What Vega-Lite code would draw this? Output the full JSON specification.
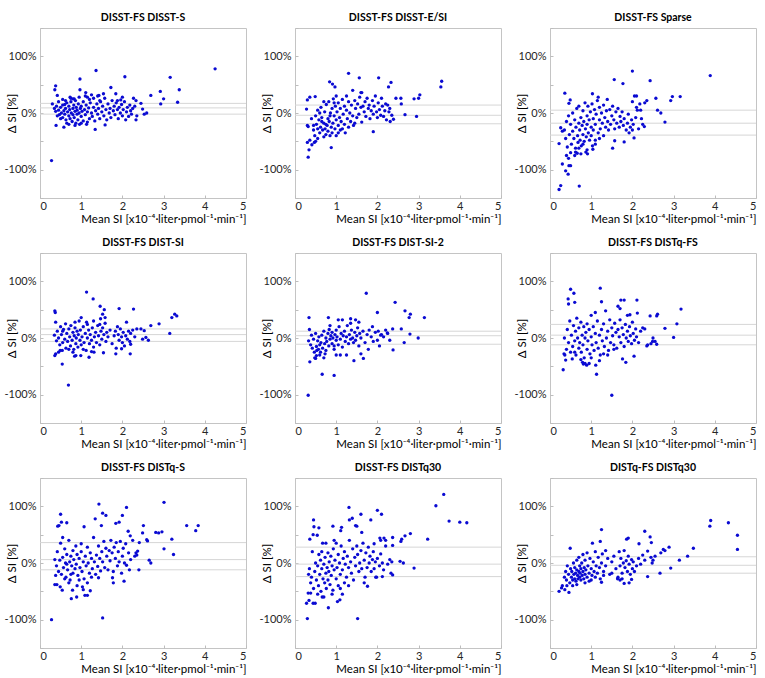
{
"$schema":"https://vega.github.io/schema/vega-lite/v6.json",
"padding":{"left":3,"top":12,"right":2,"bottom":2},
"background":"white",
"config":{"font":"Lato","view":{"stroke":"#c4c4c4","strokeWidth":1},
"axis":{"grid":false,"domain":false,"tickColor":"#bdbdbd","tickSize":-3,"labelFont":"Lato","labelFontSize":11,"labelColor":"#262626","titleFont":"Lato","titleFontSize":11.5,"titleColor":"#000","titleFontWeight":"normal"}},
"data":{"values":[
{"p":1,"h":17},{"p":1,"h":9},{"p":1,"h":-2},
{"p":2,"h":14},{"p":2,"h":-4},{"p":2,"h":-19},
{"p":3,"h":5},{"p":3,"h":-18},{"p":3,"h":-39},
{"p":4,"h":16},{"p":4,"h":6},{"p":4,"h":-6},
{"p":5,"h":12},{"p":5,"h":4},{"p":5,"h":-11},
{"p":6,"h":24},{"p":6,"h":5},{"p":6,"h":-12},
{"p":7,"h":36},{"p":7,"h":6},{"p":7,"h":-12},
{"p":8,"h":28},{"p":8,"h":-2},{"p":8,"h":-24},
{"p":9,"h":11},{"p":9,"h":-4},{"p":9,"h":-18},
{"p":1,"x":0.28,"y":-84},{"p":1,"x":4.25,"y":78},{"p":1,"x":1.36,"y":75},{"p":1,"x":0.97,"y":60},{"p":1,"x":2.06,"y":64},{"p":1,"x":3.16,"y":63},{"p":1,"x":3.38,"y":41},{"p":1,"x":3.34,"y":19},{"p":1,"x":2.92,"y":38},{"p":1,"x":3.0,"y":25},{"p":1,"x":2.93,"y":16},{"p":1,"x":2.69,"y":31},{"p":1,"x":1.72,"y":45},{"p":1,"x":0.38,"y":48},{"p":1,"x":0.36,"y":41},{"p":1,"x":0.30,"y":16},{"p":1,"x":0.42,"y":31},{"p":1,"x":0.39,"y":-22},{"p":1,"x":0.58,"y":-25},{"p":1,"x":1.11,"y":36},{"p":1,"x":1.34,"y":-29},{"p":1,"x":1.58,"y":-21},{"p":1,"x":2.33,"y":-12},{"p":1,"x":2.35,"y":-5},{"p":1,"x":2.53,"y":-2},{"p":1,"x":2.59,"y":0},{"p":1,"x":2.49,"y":7},{"p":1,"x":2.45,"y":17},{"p":1,"x":2.27,"y":26},{"p":1,"x":2.33,"y":22},{"p":1,"x":1.88,"y":22},{"p":1,"x":2.0,"y":28},{"p":1,"x":1.96,"y":23},{"p":1,"x":1.84,"y":34},{"p":1,"x":1.54,"y":34},{"p":1,"x":1.43,"y":31},{"p":1,"x":1.15,"y":28},{"p":1,"x":0.97,"y":41},{"p":1,"x":0.83,"y":25},{"p":1,"x":0.73,"y":28},{"p":1,"x":0.62,"y":22},
{"p":1,"x":0.35,"y":8},{"p":1,"x":0.38,"y":3},{"p":1,"x":0.4,"y":12},{"p":1,"x":0.42,"y":-5},{"p":1,"x":0.45,"y":5},{"p":1,"x":0.47,"y":-3},{"p":1,"x":0.5,"y":10},{"p":1,"x":0.52,"y":0},{"p":1,"x":0.55,"y":-8},{"p":1,"x":0.55,"y":14},{"p":1,"x":0.58,"y":4},{"p":1,"x":0.6,"y":-2},{"p":1,"x":0.62,"y":8},{"p":1,"x":0.63,"y":-12},{"p":1,"x":0.65,"y":18},{"p":1,"x":0.67,"y":2},{"p":1,"x":0.7,"y":-5},{"p":1,"x":0.7,"y":12},{"p":1,"x":0.72,"y":6},{"p":1,"x":0.73,"y":-10},{"p":1,"x":0.75,"y":20},{"p":1,"x":0.76,"y":0},{"p":1,"x":0.78,"y":-15},{"p":1,"x":0.8,"y":8},{"p":1,"x":0.8,"y":-3},{"p":1,"x":0.82,"y":14},{"p":1,"x":0.83,"y":-8},{"p":1,"x":0.85,"y":3},{"p":1,"x":0.86,"y":22},{"p":1,"x":0.87,"y":-18},{"p":1,"x":0.88,"y":10},{"p":1,"x":0.9,"y":-2},{"p":1,"x":0.9,"y":5},{"p":1,"x":0.92,"y":-12},{"p":1,"x":0.93,"y":16},{"p":1,"x":0.95,"y":0},{"p":1,"x":0.96,"y":-20},{"p":1,"x":0.98,"y":8},{"p":1,"x":1.0,"y":-6},{"p":1,"x":1.0,"y":12},{"p":1,"x":1.02,"y":3},{"p":1,"x":1.05,"y":-14},{"p":1,"x":1.05,"y":20},{"p":1,"x":1.08,"y":6},{"p":1,"x":1.1,"y":-3},{"p":1,"x":1.12,"y":14},{"p":1,"x":1.13,"y":-20},{"p":1,"x":1.15,"y":2},{"p":1,"x":1.18,"y":9},{"p":1,"x":1.2,"y":-10},{"p":1,"x":1.22,"y":18},{"p":1,"x":1.25,"y":0},{"p":1,"x":1.27,"y":-6},{"p":1,"x":1.3,"y":10},{"p":1,"x":1.3,"y":26},{"p":1,"x":1.33,"y":-14},{"p":1,"x":1.35,"y":4},{"p":1,"x":1.38,"y":16},{"p":1,"x":1.4,"y":-2},{"p":1,"x":1.42,"y":8},{"p":1,"x":1.45,"y":-10},{"p":1,"x":1.47,"y":20},{"p":1,"x":1.5,"y":2},{"p":1,"x":1.52,"y":12},{"p":1,"x":1.55,"y":-5},{"p":1,"x":1.57,"y":26},{"p":1,"x":1.6,"y":6},{"p":1,"x":1.62,"y":-12},{"p":1,"x":1.65,"y":16},{"p":1,"x":1.68,"y":0},{"p":1,"x":1.7,"y":8},{"p":1,"x":1.72,"y":-8},{"p":1,"x":1.75,"y":22},{"p":1,"x":1.78,"y":4},{"p":1,"x":1.8,"y":12},{"p":1,"x":1.82,"y":-3},{"p":1,"x":1.85,"y":18},{"p":1,"x":1.88,"y":6},{"p":1,"x":1.9,"y":-10},{"p":1,"x":1.92,"y":10},{"p":1,"x":1.95,"y":0},{"p":1,"x":1.98,"y":15},{"p":1,"x":2.0,"y":-5},{"p":1,"x":2.02,"y":6},{"p":1,"x":2.05,"y":20},{"p":1,"x":2.08,"y":-12},{"p":1,"x":2.1,"y":2},{"p":1,"x":2.12,"y":10},{"p":1,"x":2.15,"y":-6},{"p":1,"x":2.18,"y":14},{"p":1,"x":2.2,"y":4},{"p":1,"x":2.22,"y":-2},{"p":1,"x":2.25,"y":8},{"p":1,"x":2.3,"y":12},{"p":1,"x":0.95,"y":28},{"p":1,"x":0.75,"y":26},{"p":1,"x":0.55,"y":24},{"p":1,"x":0.45,"y":20},{"p":1,"x":1.1,"y":30},{"p":1,"x":1.25,"y":32},{"p":1,"x":1.45,"y":22},{"p":1,"x":0.65,"y":-18},{"p":1,"x":0.85,"y":-22},{"p":1,"x":1.15,"y":-16},{"p":1,"x":0.5,"y":-10},{"p":1,"x":0.6,"y":15},{"p":1,"x":0.7,"y":-20},{"p":1,"x":0.8,"y":25},{"p":1,"x":1.0,"y":-18},{"p":1,"x":1.2,"y":24},{"p":1,"x":1.4,"y":30},
{"p":2,"x":1.3,"y":70},{"p":2,"x":1.56,"y":62},{"p":2,"x":2.03,"y":62},{"p":2,"x":2.33,"y":54},{"p":2,"x":2.27,"y":46},{"p":2,"x":3.56,"y":56},{"p":2,"x":3.54,"y":46},{"p":2,"x":3.03,"y":32},{"p":2,"x":3.0,"y":26},{"p":2,"x":2.89,"y":25},{"p":2,"x":2.95,"y":-6},{"p":2,"x":2.67,"y":-3},{"p":2,"x":2.58,"y":16},{"p":2,"x":2.57,"y":26},{"p":2,"x":2.45,"y":26},{"p":2,"x":2.39,"y":-11},{"p":2,"x":2.31,"y":-15},{"p":2,"x":1.9,"y":-33},{"p":2,"x":1.62,"y":-16},{"p":2,"x":0.84,"y":55},{"p":2,"x":0.91,"y":51},{"p":2,"x":0.97,"y":46},{"p":2,"x":0.88,"y":-61},{"p":2,"x":0.3,"y":-52},{"p":2,"x":0.34,"y":-65},{"p":2,"x":0.32,"y":-78},{"p":2,"x":0.41,"y":-56},{"p":2,"x":0.47,"y":-52},{"p":2,"x":0.36,"y":-48},{"p":2,"x":0.28,"y":7},{"p":2,"x":0.3,"y":-22},{"p":2,"x":0.32,"y":-24},{"p":2,"x":0.36,"y":28},{"p":2,"x":0.3,"y":23},{"p":2,"x":0.49,"y":29},
{"p":2,"x":0.4,"y":-10},{"p":2,"x":0.45,"y":-30},{"p":2,"x":0.48,"y":-40},{"p":2,"x":0.5,"y":-5},{"p":2,"x":0.52,"y":-20},{"p":2,"x":0.55,"y":-45},{"p":2,"x":0.55,"y":5},{"p":2,"x":0.58,"y":-12},{"p":2,"x":0.6,"y":-35},{"p":2,"x":0.62,"y":-25},{"p":2,"x":0.63,"y":10},{"p":2,"x":0.65,"y":-8},{"p":2,"x":0.67,"y":-30},{"p":2,"x":0.7,"y":-42},{"p":2,"x":0.7,"y":-18},{"p":2,"x":0.72,"y":2},{"p":2,"x":0.73,"y":-28},{"p":2,"x":0.75,"y":-38},{"p":2,"x":0.76,"y":15},{"p":2,"x":0.78,"y":-22},{"p":2,"x":0.8,"y":-10},{"p":2,"x":0.8,"y":-32},{"p":2,"x":0.82,"y":20},{"p":2,"x":0.83,"y":-15},{"p":2,"x":0.85,"y":-40},{"p":2,"x":0.86,"y":0},{"p":2,"x":0.88,"y":-25},{"p":2,"x":0.9,"y":8},{"p":2,"x":0.9,"y":-35},{"p":2,"x":0.92,"y":-18},{"p":2,"x":0.93,"y":25},{"p":2,"x":0.95,"y":-5},{"p":2,"x":0.97,"y":-28},{"p":2,"x":0.98,"y":12},{"p":2,"x":1.0,"y":-12},{"p":2,"x":1.0,"y":-40},{"p":2,"x":1.02,"y":2},{"p":2,"x":1.05,"y":-22},{"p":2,"x":1.05,"y":18},{"p":2,"x":1.08,"y":-8},{"p":2,"x":1.1,"y":-30},{"p":2,"x":1.1,"y":8},{"p":2,"x":1.12,"y":-15},{"p":2,"x":1.15,"y":24},{"p":2,"x":1.17,"y":-2},{"p":2,"x":1.2,"y":-20},{"p":2,"x":1.2,"y":12},{"p":2,"x":1.22,"y":-35},{"p":2,"x":1.25,"y":5},{"p":2,"x":1.27,"y":-10},{"p":2,"x":1.3,"y":20},{"p":2,"x":1.3,"y":-25},{"p":2,"x":1.33,"y":0},{"p":2,"x":1.35,"y":-15},{"p":2,"x":1.37,"y":14},{"p":2,"x":1.4,"y":-5},{"p":2,"x":1.42,"y":-22},{"p":2,"x":1.45,"y":22},{"p":2,"x":1.47,"y":8},{"p":2,"x":1.5,"y":-8},{"p":2,"x":1.52,"y":16},{"p":2,"x":1.55,"y":-2},{"p":2,"x":1.57,"y":28},{"p":2,"x":1.6,"y":10},{"p":2,"x":1.62,"y":36},{"p":2,"x":1.65,"y":12},{"p":2,"x":1.68,"y":2},{"p":2,"x":1.7,"y":20},{"p":2,"x":1.72,"y":-6},{"p":2,"x":1.75,"y":26},{"p":2,"x":1.78,"y":8},{"p":2,"x":1.8,"y":14},{"p":2,"x":1.82,"y":-10},{"p":2,"x":1.85,"y":4},{"p":2,"x":1.88,"y":22},{"p":2,"x":1.9,"y":-2},{"p":2,"x":1.92,"y":12},{"p":2,"x":1.95,"y":30},{"p":2,"x":1.98,"y":2},{"p":2,"x":2.0,"y":-8},{"p":2,"x":2.02,"y":18},{"p":2,"x":2.05,"y":6},{"p":2,"x":2.08,"y":-4},{"p":2,"x":2.1,"y":26},{"p":2,"x":2.12,"y":12},{"p":2,"x":2.15,"y":-6},{"p":2,"x":2.18,"y":4},{"p":2,"x":2.2,"y":16},{"p":2,"x":2.22,"y":-12},{"p":2,"x":2.25,"y":14},{"p":2,"x":2.28,"y":2},{"p":2,"x":2.3,"y":8},{"p":2,"x":2.35,"y":-4},{"p":2,"x":1.4,"y":40},{"p":2,"x":1.6,"y":36},{"p":2,"x":1.0,"y":30},{"p":2,"x":0.75,"y":-20},{"p":2,"x":0.65,"y":-15},{"p":2,"x":0.55,"y":-28},{"p":2,"x":0.85,"y":-5},{"p":2,"x":0.95,"y":18},{"p":2,"x":1.15,"y":-28},{"p":2,"x":1.25,"y":30},{"p":2,"x":1.05,"y":-35},{"p":2,"x":1.45,"y":-18},{"p":2,"x":0.7,"y":20},{"p":2,"x":0.6,"y":0},{"p":2,"x":0.5,"y":-50},{"p":2,"x":0.45,"y":-22},
{"p":3,"x":0.22,"y":-135},{"p":3,"x":0.26,"y":-128},{"p":3,"x":0.71,"y":-129},{"p":3,"x":0.3,"y":-90},{"p":3,"x":0.38,"y":-102},{"p":3,"x":0.44,"y":-108},{"p":3,"x":0.46,"y":-93},{"p":3,"x":0.5,"y":-93},{"p":3,"x":0.36,"y":35},{"p":3,"x":2.0,"y":74},{"p":3,"x":3.89,"y":66},{"p":3,"x":2.43,"y":57},{"p":3,"x":1.56,"y":59},{"p":3,"x":1.77,"y":52},{"p":3,"x":3.16,"y":29},{"p":3,"x":2.97,"y":29},{"p":3,"x":2.93,"y":22},{"p":3,"x":2.57,"y":26},{"p":3,"x":2.61,"y":5},{"p":3,"x":2.69,"y":0},{"p":3,"x":2.79,"y":-16},{"p":3,"x":2.29,"y":-24},{"p":3,"x":2.04,"y":-44},{"p":3,"x":1.8,"y":-51},{"p":3,"x":1.52,"y":-62},{"p":3,"x":1.57,"y":-49},{"p":3,"x":0.22,"y":-54},{"p":3,"x":0.26,"y":-26},{"p":3,"x":0.3,"y":-32},{"p":3,"x":1.03,"y":-58},{"p":3,"x":1.04,"y":-64},{"p":3,"x":0.66,"y":-71},{"p":3,"x":0.75,"y":-72},{"p":3,"x":0.62,"y":-69},{"p":3,"x":0.87,"y":-69},{"p":3,"x":0.91,"y":-72},{"p":3,"x":0.49,"y":23},{"p":3,"x":0.46,"y":17},{"p":3,"x":1.03,"y":34},{"p":3,"x":1.17,"y":28},{"p":3,"x":1.39,"y":24},
{"p":3,"x":0.35,"y":-30},{"p":3,"x":0.38,"y":-45},{"p":3,"x":0.4,"y":-15},{"p":3,"x":0.42,"y":-60},{"p":3,"x":0.45,"y":-5},{"p":3,"x":0.47,"y":-38},{"p":3,"x":0.5,"y":-20},{"p":3,"x":0.52,"y":-55},{"p":3,"x":0.55,"y":0},{"p":3,"x":0.55,"y":-32},{"p":3,"x":0.58,"y":-45},{"p":3,"x":0.6,"y":-12},{"p":3,"x":0.62,"y":-62},{"p":3,"x":0.63,"y":-25},{"p":3,"x":0.65,"y":8},{"p":3,"x":0.67,"y":-40},{"p":3,"x":0.68,"y":-52},{"p":3,"x":0.7,"y":-18},{"p":3,"x":0.7,"y":12},{"p":3,"x":0.72,"y":-30},{"p":3,"x":0.73,"y":-48},{"p":3,"x":0.75,"y":-8},{"p":3,"x":0.76,"y":-58},{"p":3,"x":0.78,"y":-22},{"p":3,"x":0.8,"y":-38},{"p":3,"x":0.8,"y":4},{"p":3,"x":0.82,"y":-15},{"p":3,"x":0.83,"y":-50},{"p":3,"x":0.85,"y":18},{"p":3,"x":0.86,"y":-28},{"p":3,"x":0.88,"y":-42},{"p":3,"x":0.9,"y":-5},{"p":3,"x":0.9,"y":-20},{"p":3,"x":0.92,"y":12},{"p":3,"x":0.93,"y":-35},{"p":3,"x":0.95,"y":-12},{"p":3,"x":0.96,"y":-48},{"p":3,"x":0.98,"y":2},{"p":3,"x":1.0,"y":-25},{"p":3,"x":1.0,"y":-40},{"p":3,"x":1.02,"y":16},{"p":3,"x":1.05,"y":-10},{"p":3,"x":1.05,"y":-30},{"p":3,"x":1.08,"y":6},{"p":3,"x":1.1,"y":-20},{"p":3,"x":1.1,"y":-55},{"p":3,"x":1.12,"y":-2},{"p":3,"x":1.15,"y":22},{"p":3,"x":1.17,"y":-35},{"p":3,"x":1.2,"y":-12},{"p":3,"x":1.2,"y":10},{"p":3,"x":1.22,"y":-28},{"p":3,"x":1.25,"y":0},{"p":3,"x":1.27,"y":-18},{"p":3,"x":1.3,"y":-40},{"p":3,"x":1.3,"y":14},{"p":3,"x":1.33,"y":-8},{"p":3,"x":1.35,"y":-25},{"p":3,"x":1.37,"y":4},{"p":3,"x":1.4,"y":-15},{"p":3,"x":1.42,"y":-30},{"p":3,"x":1.45,"y":6},{"p":3,"x":1.47,"y":-20},{"p":3,"x":1.5,"y":-5},{"p":3,"x":1.52,"y":12},{"p":3,"x":1.55,"y":-12},{"p":3,"x":1.57,"y":-28},{"p":3,"x":1.6,"y":2},{"p":3,"x":1.62,"y":-18},{"p":3,"x":1.65,"y":8},{"p":3,"x":1.68,"y":-25},{"p":3,"x":1.7,"y":-6},{"p":3,"x":1.72,"y":-15},{"p":3,"x":1.75,"y":2},{"p":3,"x":1.78,"y":-22},{"p":3,"x":1.8,"y":-10},{"p":3,"x":1.85,"y":-30},{"p":3,"x":1.88,"y":-18},{"p":3,"x":1.9,"y":-2},{"p":3,"x":1.92,"y":-35},{"p":3,"x":1.95,"y":-25},{"p":3,"x":1.98,"y":-12},{"p":3,"x":2.0,"y":20},{"p":3,"x":2.02,"y":-20},{"p":3,"x":2.05,"y":30},{"p":3,"x":2.08,"y":-8},{"p":3,"x":2.1,"y":10},{"p":3,"x":2.12,"y":5},{"p":3,"x":2.15,"y":-28},{"p":3,"x":2.18,"y":16},{"p":3,"x":2.2,"y":5},{"p":3,"x":2.22,"y":-10},{"p":3,"x":2.25,"y":-20},{"p":3,"x":2.3,"y":18},{"p":3,"x":2.35,"y":22},{"p":3,"x":2.1,"y":30},{"p":3,"x":2.0,"y":-30},{"p":3,"x":1.2,"y":-45},{"p":3,"x":0.9,"y":-65},{"p":3,"x":0.6,"y":-75},{"p":3,"x":0.7,"y":-62},{"p":3,"x":1.1,"y":-48},{"p":3,"x":0.8,"y":-55},{"p":3,"x":0.5,"y":-70},{"p":3,"x":0.45,"y":-80},{"p":3,"x":0.4,"y":-75},
{"p":4,"x":0.69,"y":-83},{"p":4,"x":1.13,"y":81},{"p":4,"x":1.29,"y":69},{"p":4,"x":0.36,"y":48},{"p":4,"x":0.37,"y":45},{"p":4,"x":0.54,"y":-46},{"p":4,"x":3.15,"y":8},{"p":4,"x":3.2,"y":36},{"p":4,"x":3.27,"y":42},{"p":4,"x":3.32,"y":39},{"p":4,"x":2.89,"y":25},{"p":4,"x":2.69,"y":22},{"p":4,"x":2.45,"y":16},{"p":4,"x":2.53,"y":13},{"p":4,"x":2.49,"y":-2},{"p":4,"x":2.57,"y":1},{"p":4,"x":2.63,"y":-4},{"p":4,"x":2.27,"y":51},{"p":4,"x":1.92,"y":52},{"p":4,"x":1.46,"y":56},{"p":4,"x":1.56,"y":50},{"p":4,"x":1.52,"y":42},{"p":4,"x":1.47,"y":34},{"p":4,"x":1.58,"y":36},{"p":4,"x":2.2,"y":-11},{"p":4,"x":2.19,"y":-28},{"p":4,"x":1.84,"y":-28},{"p":4,"x":1.98,"y":-19},{"p":4,"x":0.38,"y":-28},{"p":4,"x":0.36,"y":-31},{"p":4,"x":0.49,"y":-22},{"p":4,"x":0.54,"y":-22},{"p":4,"x":1.19,"y":-34},{"p":4,"x":0.87,"y":-31},{"p":4,"x":0.84,"y":-32},{"p":4,"x":0.99,"y":-31},{"p":4,"x":1.31,"y":-25},{"p":4,"x":1.54,"y":-26},
{"p":4,"x":0.35,"y":5},{"p":4,"x":0.38,"y":28},{"p":4,"x":0.4,"y":-5},{"p":4,"x":0.42,"y":12},{"p":4,"x":0.45,"y":0},{"p":4,"x":0.48,"y":-12},{"p":4,"x":0.5,"y":20},{"p":4,"x":0.52,"y":6},{"p":4,"x":0.55,"y":-8},{"p":4,"x":0.57,"y":15},{"p":4,"x":0.6,"y":-2},{"p":4,"x":0.62,"y":25},{"p":4,"x":0.63,"y":-18},{"p":4,"x":0.65,"y":8},{"p":4,"x":0.67,"y":-6},{"p":4,"x":0.7,"y":16},{"p":4,"x":0.72,"y":2},{"p":4,"x":0.74,"y":-14},{"p":4,"x":0.75,"y":22},{"p":4,"x":0.78,"y":-4},{"p":4,"x":0.8,"y":10},{"p":4,"x":0.82,"y":-20},{"p":4,"x":0.83,"y":4},{"p":4,"x":0.85,"y":18},{"p":4,"x":0.87,"y":-10},{"p":4,"x":0.88,"y":0},{"p":4,"x":0.9,"y":12},{"p":4,"x":0.92,"y":-16},{"p":4,"x":0.93,"y":6},{"p":4,"x":0.95,"y":30},{"p":4,"x":0.97,"y":-4},{"p":4,"x":0.98,"y":14},{"p":4,"x":1.0,"y":-12},{"p":4,"x":1.02,"y":2},{"p":4,"x":1.05,"y":20},{"p":4,"x":1.07,"y":-8},{"p":4,"x":1.1,"y":8},{"p":4,"x":1.12,"y":-22},{"p":4,"x":1.13,"y":28},{"p":4,"x":1.15,"y":0},{"p":4,"x":1.18,"y":14},{"p":4,"x":1.2,"y":-10},{"p":4,"x":1.22,"y":6},{"p":4,"x":1.25,"y":-4},{"p":4,"x":1.27,"y":18},{"p":4,"x":1.3,"y":-16},{"p":4,"x":1.32,"y":2},{"p":4,"x":1.35,"y":10},{"p":4,"x":1.37,"y":-8},{"p":4,"x":1.4,"y":22},{"p":4,"x":1.42,"y":4},{"p":4,"x":1.45,"y":-12},{"p":4,"x":1.48,"y":12},{"p":4,"x":1.5,"y":-2},{"p":4,"x":1.52,"y":18},{"p":4,"x":1.55,"y":6},{"p":4,"x":1.58,"y":26},{"p":4,"x":1.6,"y":-6},{"p":4,"x":1.62,"y":10},{"p":4,"x":1.65,"y":2},{"p":4,"x":1.7,"y":14},{"p":4,"x":1.75,"y":-10},{"p":4,"x":1.8,"y":4},{"p":4,"x":1.83,"y":12},{"p":4,"x":1.85,"y":-18},{"p":4,"x":1.88,"y":20},{"p":4,"x":1.9,"y":6},{"p":4,"x":1.92,"y":-4},{"p":4,"x":1.95,"y":16},{"p":4,"x":1.98,"y":2},{"p":4,"x":2.0,"y":-8},{"p":4,"x":2.02,"y":10},{"p":4,"x":2.05,"y":-14},{"p":4,"x":2.08,"y":4},{"p":4,"x":2.1,"y":28},{"p":4,"x":2.12,"y":-2},{"p":4,"x":2.15,"y":12},{"p":4,"x":2.18,"y":-6},{"p":4,"x":2.2,"y":8},{"p":4,"x":2.25,"y":14},{"p":4,"x":2.3,"y":2},{"p":4,"x":2.35,"y":16},{"p":4,"x":0.55,"y":12},{"p":4,"x":0.7,"y":-20},{"p":4,"x":0.85,"y":28},{"p":4,"x":1.0,"y":36},{"p":4,"x":1.15,"y":24},{"p":4,"x":1.3,"y":30},{"p":4,"x":0.45,"y":-25},{"p":4,"x":0.8,"y":-25},{"p":4,"x":1.05,"y":-20},{"p":4,"x":1.25,"y":-24},{"p":4,"x":1.45,"y":24},
{"p":5,"x":0.32,"y":-101},{"p":5,"x":0.66,"y":-64},{"p":5,"x":0.95,"y":-66},{"p":5,"x":1.73,"y":79},{"p":5,"x":2.43,"y":63},{"p":5,"x":2.0,"y":45},{"p":5,"x":2.67,"y":48},{"p":5,"x":2.8,"y":42},{"p":5,"x":2.77,"y":36},{"p":5,"x":3.14,"y":36},{"p":5,"x":2.99,"y":0},{"p":5,"x":2.79,"y":7},{"p":5,"x":2.58,"y":16},{"p":5,"x":2.65,"y":-8},{"p":5,"x":2.38,"y":-21},{"p":5,"x":1.43,"y":-40},{"p":5,"x":1.66,"y":-36},{"p":5,"x":0.34,"y":36},{"p":5,"x":0.81,"y":36},{"p":5,"x":0.36,"y":-42},{"p":5,"x":0.5,"y":-36},{"p":5,"x":0.52,"y":-31},{"p":5,"x":0.48,"y":-35},{"p":5,"x":1.05,"y":32},{"p":5,"x":1.35,"y":34},{"p":5,"x":1.47,"y":32},{"p":5,"x":1.15,"y":32},{"p":5,"x":2.37,"y":16},{"p":5,"x":2.24,"y":9},{"p":5,"x":2.08,"y":5},
{"p":5,"x":0.33,"y":-5},{"p":5,"x":0.35,"y":15},{"p":5,"x":0.38,"y":-12},{"p":5,"x":0.4,"y":5},{"p":5,"x":0.42,"y":-18},{"p":5,"x":0.45,"y":-2},{"p":5,"x":0.47,"y":-25},{"p":5,"x":0.5,"y":8},{"p":5,"x":0.52,"y":-15},{"p":5,"x":0.53,"y":-22},{"p":5,"x":0.55,"y":-5},{"p":5,"x":0.57,"y":-20},{"p":5,"x":0.58,"y":2},{"p":5,"x":0.6,"y":-12},{"p":5,"x":0.62,"y":-25},{"p":5,"x":0.63,"y":-8},{"p":5,"x":0.65,"y":5},{"p":5,"x":0.67,"y":-18},{"p":5,"x":0.7,"y":12},{"p":5,"x":0.72,"y":-10},{"p":5,"x":0.73,"y":-28},{"p":5,"x":0.75,"y":0},{"p":5,"x":0.77,"y":-6},{"p":5,"x":0.8,"y":8},{"p":5,"x":0.82,"y":-14},{"p":5,"x":0.83,"y":15},{"p":5,"x":0.85,"y":-2},{"p":5,"x":0.87,"y":4},{"p":5,"x":0.9,"y":-10},{"p":5,"x":0.9,"y":10},{"p":5,"x":0.92,"y":0},{"p":5,"x":0.95,"y":-20},{"p":5,"x":0.97,"y":6},{"p":5,"x":1.0,"y":-4},{"p":5,"x":1.0,"y":14},{"p":5,"x":1.02,"y":2},{"p":5,"x":1.05,"y":-12},{"p":5,"x":1.07,"y":20},{"p":5,"x":1.1,"y":-2},{"p":5,"x":1.12,"y":8},{"p":5,"x":1.15,"y":-16},{"p":5,"x":1.17,"y":4},{"p":5,"x":1.2,"y":12},{"p":5,"x":1.22,"y":-6},{"p":5,"x":1.25,"y":2},{"p":5,"x":1.27,"y":22},{"p":5,"x":1.3,"y":-10},{"p":5,"x":1.32,"y":6},{"p":5,"x":1.35,"y":-2},{"p":5,"x":1.37,"y":14},{"p":5,"x":1.4,"y":0},{"p":5,"x":1.42,"y":-8},{"p":5,"x":1.45,"y":10},{"p":5,"x":1.47,"y":-4},{"p":5,"x":1.5,"y":4},{"p":5,"x":1.52,"y":18},{"p":5,"x":1.55,"y":-14},{"p":5,"x":1.57,"y":8},{"p":5,"x":1.6,"y":0},{"p":5,"x":1.65,"y":12},{"p":5,"x":1.7,"y":-8},{"p":5,"x":1.75,"y":6},{"p":5,"x":1.78,"y":-20},{"p":5,"x":1.8,"y":14},{"p":5,"x":1.85,"y":2},{"p":5,"x":1.88,"y":20},{"p":5,"x":1.9,"y":-6},{"p":5,"x":1.95,"y":10},{"p":5,"x":2.0,"y":-4},{"p":5,"x":2.02,"y":12},{"p":5,"x":2.05,"y":-14},{"p":5,"x":2.1,"y":6},{"p":5,"x":2.15,"y":2},{"p":5,"x":2.2,"y":14},{"p":5,"x":2.25,"y":8},{"p":5,"x":2.3,"y":-4},{"p":5,"x":1.25,"y":-30},{"p":5,"x":1.1,"y":-30},{"p":5,"x":1.6,"y":-28},{"p":5,"x":0.95,"y":-14},{"p":5,"x":0.6,"y":-30},{"p":5,"x":0.75,"y":-22},{"p":5,"x":1.35,"y":26},{"p":5,"x":1.55,"y":28},{"p":5,"x":0.85,"y":22},{"p":5,"x":0.7,"y":-35},{"p":5,"x":1.0,"y":-30},
{"p":6,"x":1.5,"y":-101},{"p":6,"x":0.32,"y":-56},{"p":6,"x":1.13,"y":-64},{"p":6,"x":0.5,"y":86},{"p":6,"x":1.22,"y":88},{"p":6,"x":0.58,"y":79},{"p":6,"x":0.44,"y":69},{"p":6,"x":0.45,"y":60},{"p":6,"x":0.6,"y":63},{"p":6,"x":1.25,"y":64},{"p":6,"x":1.72,"y":67},{"p":6,"x":1.8,"y":67},{"p":6,"x":2.11,"y":67},{"p":6,"x":1.65,"y":56},{"p":6,"x":1.7,"y":52},{"p":6,"x":3.18,"y":51},{"p":6,"x":3.08,"y":25},{"p":6,"x":3.0,"y":1},{"p":6,"x":2.79,"y":17},{"p":6,"x":2.61,"y":42},{"p":6,"x":2.59,"y":39},{"p":6,"x":2.43,"y":39},{"p":6,"x":2.12,"y":44},{"p":6,"x":1.94,"y":41},{"p":6,"x":1.88,"y":40},{"p":6,"x":1.76,"y":-37},{"p":6,"x":1.84,"y":-43},{"p":6,"x":2.04,"y":-32},{"p":6,"x":0.89,"y":-48},{"p":6,"x":0.95,"y":-45},{"p":6,"x":1.11,"y":-48},{"p":6,"x":0.79,"y":-43},{"p":6,"x":0.81,"y":-46},{"p":6,"x":0.38,"y":-39},{"p":6,"x":0.54,"y":-37},{"p":6,"x":0.34,"y":-28},{"p":6,"x":0.36,"y":-30},{"p":6,"x":2.59,"y":-11},{"p":6,"x":2.49,"y":-6},{"p":6,"x":2.37,"y":-12},
{"p":6,"x":0.35,"y":0},{"p":6,"x":0.4,"y":-20},{"p":6,"x":0.42,"y":15},{"p":6,"x":0.45,"y":-8},{"p":6,"x":0.48,"y":30},{"p":6,"x":0.5,"y":-25},{"p":6,"x":0.52,"y":5},{"p":6,"x":0.55,"y":-15},{"p":6,"x":0.57,"y":22},{"p":6,"x":0.6,"y":-5},{"p":6,"x":0.62,"y":12},{"p":6,"x":0.63,"y":-30},{"p":6,"x":0.65,"y":35},{"p":6,"x":0.67,"y":0},{"p":6,"x":0.7,"y":-18},{"p":6,"x":0.7,"y":18},{"p":6,"x":0.72,"y":-8},{"p":6,"x":0.75,"y":28},{"p":6,"x":0.76,"y":-25},{"p":6,"x":0.78,"y":5},{"p":6,"x":0.8,"y":-12},{"p":6,"x":0.82,"y":20},{"p":6,"x":0.83,"y":-35},{"p":6,"x":0.85,"y":0},{"p":6,"x":0.87,"y":10},{"p":6,"x":0.9,"y":-20},{"p":6,"x":0.9,"y":25},{"p":6,"x":0.92,"y":-5},{"p":6,"x":0.95,"y":15},{"p":6,"x":0.97,"y":-28},{"p":6,"x":1.0,"y":2},{"p":6,"x":1.0,"y":40},{"p":6,"x":1.02,"y":-12},{"p":6,"x":1.05,"y":20},{"p":6,"x":1.07,"y":-22},{"p":6,"x":1.1,"y":8},{"p":6,"x":1.12,"y":-8},{"p":6,"x":1.15,"y":30},{"p":6,"x":1.17,"y":-18},{"p":6,"x":1.2,"y":5},{"p":6,"x":1.22,"y":-30},{"p":6,"x":1.25,"y":15},{"p":6,"x":1.27,"y":-5},{"p":6,"x":1.3,"y":25},{"p":6,"x":1.32,"y":-15},{"p":6,"x":1.35,"y":48},{"p":6,"x":1.37,"y":0},{"p":6,"x":1.4,"y":12},{"p":6,"x":1.42,"y":-22},{"p":6,"x":1.45,"y":32},{"p":6,"x":1.47,"y":-8},{"p":6,"x":1.5,"y":18},{"p":6,"x":1.52,"y":4},{"p":6,"x":1.55,"y":-12},{"p":6,"x":1.57,"y":26},{"p":6,"x":1.6,"y":10},{"p":6,"x":1.62,"y":-18},{"p":6,"x":1.65,"y":15},{"p":6,"x":1.68,"y":2},{"p":6,"x":1.7,"y":32},{"p":6,"x":1.72,"y":-8},{"p":6,"x":1.75,"y":18},{"p":6,"x":1.78,"y":6},{"p":6,"x":1.8,"y":-15},{"p":6,"x":1.83,"y":24},{"p":6,"x":1.85,"y":0},{"p":6,"x":1.88,"y":12},{"p":6,"x":1.9,"y":-6},{"p":6,"x":1.93,"y":20},{"p":6,"x":1.95,"y":4},{"p":6,"x":1.98,"y":-10},{"p":6,"x":2.0,"y":28},{"p":6,"x":2.02,"y":8},{"p":6,"x":2.05,"y":-4},{"p":6,"x":2.08,"y":16},{"p":6,"x":2.1,"y":2},{"p":6,"x":2.15,"y":-8},{"p":6,"x":2.2,"y":12},{"p":6,"x":2.25,"y":18},{"p":6,"x":2.3,"y":16},{"p":6,"x":2.35,"y":-14},{"p":6,"x":2.45,"y":-10},{"p":6,"x":2.5,"y":0},{"p":6,"x":2.55,"y":-6},{"p":6,"x":1.0,"y":-35},{"p":6,"x":1.2,"y":-40},{"p":6,"x":1.4,"y":-30},{"p":6,"x":0.75,"y":-38},{"p":6,"x":0.6,"y":-25},{"p":6,"x":1.1,"y":45},{"p":6,"x":0.85,"y":-45},{"p":6,"x":1.3,"y":-28},{"p":6,"x":1.55,"y":-20},
{"p":7,"x":0.28,"y":-100},{"p":7,"x":1.52,"y":-97},{"p":7,"x":3.01,"y":107},{"p":7,"x":1.43,"y":104},{"p":7,"x":2.1,"y":98},{"p":7,"x":1.52,"y":88},{"p":7,"x":0.5,"y":86},{"p":7,"x":1.6,"y":84},{"p":7,"x":2.0,"y":84},{"p":7,"x":1.92,"y":72},{"p":7,"x":1.84,"y":70},{"p":7,"x":1.34,"y":78},{"p":7,"x":0.65,"y":71},{"p":7,"x":0.52,"y":72},{"p":7,"x":0.46,"y":66},{"p":7,"x":0.43,"y":65},{"p":7,"x":1.07,"y":64},{"p":7,"x":1.49,"y":66},{"p":7,"x":2.51,"y":66},{"p":7,"x":3.56,"y":66},{"p":7,"x":3.84,"y":66},{"p":7,"x":3.78,"y":57},{"p":7,"x":2.96,"y":55},{"p":7,"x":2.88,"y":53},{"p":7,"x":2.81,"y":54},{"p":7,"x":2.14,"y":56},{"p":7,"x":2.19,"y":48},{"p":7,"x":2.49,"y":53},{"p":7,"x":3.2,"y":42},{"p":7,"x":3.24,"y":15},{"p":7,"x":3.01,"y":25},{"p":7,"x":2.59,"y":41},{"p":7,"x":2.61,"y":39},{"p":7,"x":2.41,"y":36},{"p":7,"x":2.65,"y":5},{"p":7,"x":2.69,"y":0},{"p":7,"x":2.37,"y":21},{"p":7,"x":2.33,"y":18},{"p":7,"x":2.17,"y":-12},{"p":7,"x":2.04,"y":-32},{"p":7,"x":1.78,"y":-35},{"p":7,"x":1.76,"y":-26},{"p":7,"x":1.42,"y":-26},{"p":7,"x":0.76,"y":-63},{"p":7,"x":0.89,"y":-60},{"p":7,"x":1.09,"y":-57},{"p":7,"x":1.15,"y":-57},{"p":7,"x":1.22,"y":-49},{"p":7,"x":1.03,"y":-42},{"p":7,"x":1.05,"y":-47},{"p":7,"x":0.79,"y":-48},{"p":7,"x":0.54,"y":-48},{"p":7,"x":0.49,"y":-42},{"p":7,"x":0.36,"y":-38},{"p":7,"x":0.41,"y":-38},{"p":7,"x":0.38,"y":-22},{"p":7,"x":0.36,"y":6},
{"p":7,"x":0.4,"y":-5},{"p":7,"x":0.42,"y":20},{"p":7,"x":0.45,"y":-15},{"p":7,"x":0.48,"y":5},{"p":7,"x":0.5,"y":35},{"p":7,"x":0.52,"y":-20},{"p":7,"x":0.55,"y":10},{"p":7,"x":0.57,"y":-8},{"p":7,"x":0.6,"y":25},{"p":7,"x":0.62,"y":0},{"p":7,"x":0.63,"y":-25},{"p":7,"x":0.65,"y":15},{"p":7,"x":0.67,"y":-12},{"p":7,"x":0.7,"y":40},{"p":7,"x":0.72,"y":2},{"p":7,"x":0.73,"y":-30},{"p":7,"x":0.75,"y":12},{"p":7,"x":0.77,"y":-5},{"p":7,"x":0.8,"y":22},{"p":7,"x":0.8,"y":-18},{"p":7,"x":0.82,"y":6},{"p":7,"x":0.85,"y":-10},{"p":7,"x":0.87,"y":30},{"p":7,"x":0.88,"y":-2},{"p":7,"x":0.9,"y":15},{"p":7,"x":0.92,"y":-22},{"p":7,"x":0.95,"y":8},{"p":7,"x":0.97,"y":-8},{"p":7,"x":1.0,"y":20},{"p":7,"x":1.0,"y":34},{"p":7,"x":1.02,"y":-15},{"p":7,"x":1.05,"y":2},{"p":7,"x":1.07,"y":-28},{"p":7,"x":1.1,"y":12},{"p":7,"x":1.12,"y":-5},{"p":7,"x":1.15,"y":28},{"p":7,"x":1.17,"y":0},{"p":7,"x":1.2,"y":-18},{"p":7,"x":1.22,"y":18},{"p":7,"x":1.25,"y":8},{"p":7,"x":1.27,"y":-10},{"p":7,"x":1.3,"y":45},{"p":7,"x":1.32,"y":2},{"p":7,"x":1.35,"y":-20},{"p":7,"x":1.37,"y":14},{"p":7,"x":1.4,"y":-6},{"p":7,"x":1.42,"y":30},{"p":7,"x":1.45,"y":8},{"p":7,"x":1.47,"y":-14},{"p":7,"x":1.5,"y":20},{"p":7,"x":1.52,"y":2},{"p":7,"x":1.55,"y":38},{"p":7,"x":1.57,"y":-8},{"p":7,"x":1.6,"y":26},{"p":7,"x":1.62,"y":12},{"p":7,"x":1.65,"y":-12},{"p":7,"x":1.68,"y":22},{"p":7,"x":1.7,"y":4},{"p":7,"x":1.72,"y":40},{"p":7,"x":1.75,"y":18},{"p":7,"x":1.78,"y":-15},{"p":7,"x":1.8,"y":28},{"p":7,"x":1.83,"y":8},{"p":7,"x":1.85,"y":36},{"p":7,"x":1.88,"y":-5},{"p":7,"x":1.9,"y":20},{"p":7,"x":1.92,"y":2},{"p":7,"x":1.95,"y":38},{"p":7,"x":1.98,"y":-18},{"p":7,"x":2.0,"y":12},{"p":7,"x":2.02,"y":26},{"p":7,"x":2.05,"y":0},{"p":7,"x":2.08,"y":34},{"p":7,"x":2.1,"y":-4},{"p":7,"x":2.15,"y":18},{"p":7,"x":2.2,"y":6},{"p":7,"x":2.25,"y":40},{"p":7,"x":2.3,"y":12},{"p":7,"x":2.35,"y":14},{"p":7,"x":2.4,"y":-12},{"p":7,"x":0.9,"y":-40},{"p":7,"x":0.7,"y":-35},{"p":7,"x":1.15,"y":-35},{"p":7,"x":0.95,"y":-30},{"p":7,"x":0.6,"y":-28},{"p":7,"x":0.55,"y":45},{"p":7,"x":0.65,"y":-2},{"p":7,"x":1.25,"y":-25},{"p":7,"x":0.75,"y":-20},
{"p":8,"x":0.3,"y":-98},{"p":8,"x":1.52,"y":-98},{"p":8,"x":0.81,"y":-79},{"p":8,"x":0.28,"y":-71},{"p":8,"x":0.34,"y":-66},{"p":8,"x":0.44,"y":-71},{"p":8,"x":0.49,"y":-71},{"p":8,"x":0.38,"y":-53},{"p":8,"x":0.32,"y":-53},{"p":8,"x":0.66,"y":-60},{"p":8,"x":1.03,"y":-68},{"p":8,"x":1.09,"y":-65},{"p":8,"x":1.31,"y":98},{"p":8,"x":2.0,"y":93},{"p":8,"x":2.1,"y":86},{"p":8,"x":1.6,"y":86},{"p":8,"x":1.84,"y":76},{"p":8,"x":3.61,"y":121},{"p":8,"x":3.42,"y":101},{"p":8,"x":3.74,"y":74},{"p":8,"x":4.0,"y":72},{"p":8,"x":4.17,"y":71},{"p":8,"x":3.22,"y":42},{"p":8,"x":2.89,"y":-9},{"p":8,"x":2.8,"y":52},{"p":8,"x":2.67,"y":48},{"p":8,"x":2.59,"y":42},{"p":8,"x":2.57,"y":38},{"p":8,"x":2.37,"y":31},{"p":8,"x":2.37,"y":45},{"p":8,"x":2.16,"y":44},{"p":8,"x":2.2,"y":40},{"p":8,"x":2.06,"y":44},{"p":8,"x":2.08,"y":40},{"p":8,"x":1.92,"y":34},{"p":8,"x":1.13,"y":63},{"p":8,"x":0.92,"y":65},{"p":8,"x":0.58,"y":62},{"p":8,"x":0.45,"y":76},{"p":8,"x":0.46,"y":64},{"p":8,"x":0.44,"y":50},{"p":8,"x":0.54,"y":49},{"p":8,"x":0.36,"y":42},{"p":8,"x":1.11,"y":57},{"p":8,"x":1.32,"y":76},{"p":8,"x":1.39,"y":79},{"p":8,"x":1.47,"y":66},{"p":8,"x":1.5,"y":65},{"p":8,"x":1.62,"y":54},{"p":8,"x":2.33,"y":-18},{"p":8,"x":2.37,"y":-21},{"p":8,"x":2.12,"y":-24},{"p":8,"x":1.96,"y":-25},{"p":8,"x":1.76,"y":-41},{"p":8,"x":1.68,"y":-35},{"p":8,"x":2.63,"y":0},{"p":8,"x":2.55,"y":3},
{"p":8,"x":0.33,"y":-20},{"p":8,"x":0.35,"y":-10},{"p":8,"x":0.38,"y":-35},{"p":8,"x":0.4,"y":-25},{"p":8,"x":0.42,"y":20},{"p":8,"x":0.45,"y":-45},{"p":8,"x":0.48,"y":-15},{"p":8,"x":0.5,"y":0},{"p":8,"x":0.52,"y":-30},{"p":8,"x":0.55,"y":-5},{"p":8,"x":0.57,"y":-40},{"p":8,"x":0.58,"y":15},{"p":8,"x":0.6,"y":-20},{"p":8,"x":0.62,"y":5},{"p":8,"x":0.63,"y":-50},{"p":8,"x":0.65,"y":-10},{"p":8,"x":0.67,"y":35},{"p":8,"x":0.68,"y":-28},{"p":8,"x":0.7,"y":-2},{"p":8,"x":0.72,"y":-35},{"p":8,"x":0.73,"y":10},{"p":8,"x":0.75,"y":-18},{"p":8,"x":0.76,"y":-45},{"p":8,"x":0.78,"y":-8},{"p":8,"x":0.8,"y":18},{"p":8,"x":0.8,"y":-30},{"p":8,"x":0.82,"y":-15},{"p":8,"x":0.83,"y":2},{"p":8,"x":0.85,"y":-38},{"p":8,"x":0.87,"y":12},{"p":8,"x":0.88,"y":-22},{"p":8,"x":0.9,"y":-5},{"p":8,"x":0.92,"y":-48},{"p":8,"x":0.93,"y":25},{"p":8,"x":0.95,"y":-12},{"p":8,"x":0.97,"y":5},{"p":8,"x":1.0,"y":-28},{"p":8,"x":1.0,"y":35},{"p":8,"x":1.02,"y":-8},{"p":8,"x":1.05,"y":-40},{"p":8,"x":1.05,"y":15},{"p":8,"x":1.08,"y":0},{"p":8,"x":1.1,"y":-20},{"p":8,"x":1.12,"y":30},{"p":8,"x":1.15,"y":-12},{"p":8,"x":1.17,"y":8},{"p":8,"x":1.2,"y":-35},{"p":8,"x":1.2,"y":20},{"p":8,"x":1.22,"y":-2},{"p":8,"x":1.25,"y":-25},{"p":8,"x":1.27,"y":12},{"p":8,"x":1.3,"y":-8},{"p":8,"x":1.32,"y":40},{"p":8,"x":1.35,"y":2},{"p":8,"x":1.37,"y":-18},{"p":8,"x":1.4,"y":25},{"p":8,"x":1.42,"y":-30},{"p":8,"x":1.45,"y":10},{"p":8,"x":1.47,"y":-5},{"p":8,"x":1.5,"y":30},{"p":8,"x":1.52,"y":15},{"p":8,"x":1.55,"y":-15},{"p":8,"x":1.57,"y":0},{"p":8,"x":1.6,"y":22},{"p":8,"x":1.62,"y":-10},{"p":8,"x":1.65,"y":35},{"p":8,"x":1.68,"y":5},{"p":8,"x":1.7,"y":-25},{"p":8,"x":1.72,"y":18},{"p":8,"x":1.75,"y":-8},{"p":8,"x":1.78,"y":28},{"p":8,"x":1.8,"y":0},{"p":8,"x":1.82,"y":12},{"p":8,"x":1.85,"y":-15},{"p":8,"x":1.88,"y":6},{"p":8,"x":1.9,"y":20},{"p":8,"x":1.92,"y":-10},{"p":8,"x":1.95,"y":2},{"p":8,"x":1.98,"y":-25},{"p":8,"x":2.0,"y":8},{"p":8,"x":2.05,"y":-5},{"p":8,"x":2.08,"y":16},{"p":8,"x":2.12,"y":0},{"p":8,"x":2.15,"y":-12},{"p":8,"x":2.2,"y":30},{"p":8,"x":2.25,"y":-2},{"p":8,"x":2.3,"y":6},{"p":8,"x":2.35,"y":2},{"p":8,"x":0.55,"y":-55},{"p":8,"x":0.7,"y":-60},{"p":8,"x":0.9,"y":-55},{"p":8,"x":1.1,"y":-45},{"p":8,"x":1.3,"y":-40},{"p":8,"x":1.15,"y":-55},{"p":8,"x":0.65,"y":20},{"p":8,"x":0.75,"y":35},{"p":8,"x":0.95,"y":40},
{"p":9,"x":0.22,"y":-50},{"p":9,"x":0.28,"y":-44},{"p":9,"x":0.3,"y":-40},{"p":9,"x":0.36,"y":-47},{"p":9,"x":0.46,"y":-52},{"p":9,"x":0.41,"y":-40},{"p":9,"x":0.49,"y":26},{"p":9,"x":1.25,"y":59},{"p":9,"x":1.03,"y":35},{"p":9,"x":1.22,"y":38},{"p":9,"x":1.86,"y":42},{"p":9,"x":1.9,"y":44},{"p":9,"x":2.3,"y":56},{"p":9,"x":2.43,"y":46},{"p":9,"x":2.46,"y":36},{"p":9,"x":2.37,"y":21},{"p":9,"x":2.16,"y":34},{"p":9,"x":2.89,"y":28},{"p":9,"x":2.75,"y":24},{"p":9,"x":2.79,"y":22},{"p":9,"x":2.69,"y":18},{"p":9,"x":3.48,"y":26},{"p":9,"x":3.34,"y":12},{"p":9,"x":3.14,"y":5},{"p":9,"x":2.93,"y":-9},{"p":9,"x":2.67,"y":-18},{"p":9,"x":3.88,"y":65},{"p":9,"x":3.9,"y":75},{"p":9,"x":4.33,"y":71},{"p":9,"x":4.55,"y":49},{"p":9,"x":4.55,"y":24},{"p":9,"x":1.25,"y":-34},{"p":9,"x":1.64,"y":-28},{"p":9,"x":1.8,"y":-36},{"p":9,"x":1.92,"y":-35},{"p":9,"x":1.98,"y":-29},{"p":9,"x":2.37,"y":-24},
{"p":9,"x":0.35,"y":-25},{"p":9,"x":0.38,"y":-15},{"p":9,"x":0.4,"y":-30},{"p":9,"x":0.42,"y":-5},{"p":9,"x":0.45,"y":-20},{"p":9,"x":0.48,"y":-35},{"p":9,"x":0.5,"y":-10},{"p":9,"x":0.52,"y":-25},{"p":9,"x":0.53,"y":-15},{"p":9,"x":0.55,"y":-30},{"p":9,"x":0.57,"y":0},{"p":9,"x":0.58,"y":-20},{"p":9,"x":0.6,"y":-8},{"p":9,"x":0.6,"y":-28},{"p":9,"x":0.62,"y":-18},{"p":9,"x":0.63,"y":-32},{"p":9,"x":0.65,"y":-12},{"p":9,"x":0.65,"y":5},{"p":9,"x":0.67,"y":-22},{"p":9,"x":0.68,"y":-28},{"p":9,"x":0.7,"y":-15},{"p":9,"x":0.7,"y":10},{"p":9,"x":0.72,"y":-25},{"p":9,"x":0.72,"y":-5},{"p":9,"x":0.73,"y":-18},{"p":9,"x":0.75,"y":-30},{"p":9,"x":0.75,"y":-10},{"p":9,"x":0.77,"y":0},{"p":9,"x":0.78,"y":-22},{"p":9,"x":0.8,"y":-15},{"p":9,"x":0.8,"y":15},{"p":9,"x":0.82,"y":-28},{"p":9,"x":0.83,"y":-8},{"p":9,"x":0.85,"y":-20},{"p":9,"x":0.85,"y":5},{"p":9,"x":0.87,"y":-12},{"p":9,"x":0.9,"y":-25},{"p":9,"x":0.9,"y":18},{"p":9,"x":0.92,"y":-5},{"p":9,"x":0.95,"y":-18},{"p":9,"x":0.97,"y":8},{"p":9,"x":1.0,"y":-10},{"p":9,"x":1.0,"y":-30},{"p":9,"x":1.02,"y":-22},{"p":9,"x":1.05,"y":2},{"p":9,"x":1.07,"y":-15},{"p":9,"x":1.1,"y":20},{"p":9,"x":1.1,"y":-25},{"p":9,"x":1.12,"y":-5},{"p":9,"x":1.15,"y":-18},{"p":9,"x":1.17,"y":10},{"p":9,"x":1.2,"y":-8},{"p":9,"x":1.22,"y":-28},{"p":9,"x":1.25,"y":0},{"p":9,"x":1.27,"y":16},{"p":9,"x":1.3,"y":-15},{"p":9,"x":1.35,"y":-5},{"p":9,"x":1.4,"y":8},{"p":9,"x":1.45,"y":-20},{"p":9,"x":1.5,"y":2},{"p":9,"x":1.55,"y":12},{"p":9,"x":1.6,"y":-10},{"p":9,"x":1.65,"y":-25},{"p":9,"x":1.68,"y":20},{"p":9,"x":1.7,"y":-5},{"p":9,"x":1.72,"y":8},{"p":9,"x":1.75,"y":-18},{"p":9,"x":1.78,"y":0},{"p":9,"x":1.8,"y":22},{"p":9,"x":1.82,"y":-8},{"p":9,"x":1.85,"y":4},{"p":9,"x":1.88,"y":-15},{"p":9,"x":1.9,"y":12},{"p":9,"x":1.92,"y":-2},{"p":9,"x":1.95,"y":-20},{"p":9,"x":1.98,"y":6},{"p":9,"x":2.0,"y":-10},{"p":9,"x":2.02,"y":2},{"p":9,"x":2.05,"y":-15},{"p":9,"x":2.1,"y":-5},{"p":9,"x":2.15,"y":8},{"p":9,"x":2.2,"y":-2},{"p":9,"x":2.25,"y":14},{"p":9,"x":2.3,"y":5},{"p":9,"x":2.45,"y":10},{"p":9,"x":2.5,"y":5},{"p":9,"x":2.48,"y":0},{"p":9,"x":2.55,"y":12},{"p":9,"x":1.7,"y":-30},{"p":9,"x":1.75,"y":-28},{"p":9,"x":0.95,"y":-32},{"p":9,"x":0.85,"y":-35},{"p":9,"x":1.3,"y":-22},{"p":9,"x":1.35,"y":22},{"p":9,"x":1.5,"y":-18},{"p":9,"x":0.55,"y":-40},{"p":9,"x":0.65,"y":-38}
]},
"facet":{"field":"p","type":"ordinal","title":null,
"header":{"labelExpr":"['DISST-FS DISST-S','DISST-FS DISST-E/SI','DISST-FS Sparse','DISST-FS DIST-SI','DISST-FS DIST-SI-2','DISST-FS DISTq-FS','DISST-FS DISTq-S','DISST-FS DISTq30','DISTq-FS DISTq30'][datum.value-1]","labelFont":"Lato","labelFontSize":10.5,"labelFontWeight":"bold","labelColor":"#000","labelPadding":4}},
"columns":3,
"spacing":{"column":11,"row":12},
"resolve":{"axis":{"x":"independent","y":"independent"}},
"spec":{"width":206,"height":170,
"layer":[
{"transform":[{"filter":"isValid(datum.h)"}],"mark":{"type":"rule","color":"#d6d6d6","strokeWidth":1},
"encoding":{"y":{"field":"h","type":"quantitative","scale":{"domain":[-150,150],"nice":false},"axis":{"title":"Δ SI [%]","values":[-150,-100,-50,0,50,100,150],"labelExpr":"datum.value % 100 == 0 ? datum.value + '%' : ''","labelPadding":7,"titleX":-23}}}},
{"transform":[{"filter":"isValid(datum.x)"}],"mark":{"type":"circle","size":11,"color":"#0a0ad2","opacity":1},
"encoding":{"x":{"field":"x","type":"quantitative","scale":{"domain":[0,5],"nice":false},"axis":{"title":"Mean SI [x10⁻⁴·liter·pmol⁻¹·min⁻¹]","titleAnchor":"end","values":[0,1,2,3,4,5],"labelPadding":5,"titlePadding":2}},
"y":{"field":"y","type":"quantitative","scale":{"domain":[-150,150],"nice":false},"axis":{"title":"Δ SI [%]","values":[-150,-100,-50,0,50,100,150],"labelExpr":"datum.value % 100 == 0 ? datum.value + '%' : ''","labelPadding":7,"titleX":-23}}}}
]}
}
